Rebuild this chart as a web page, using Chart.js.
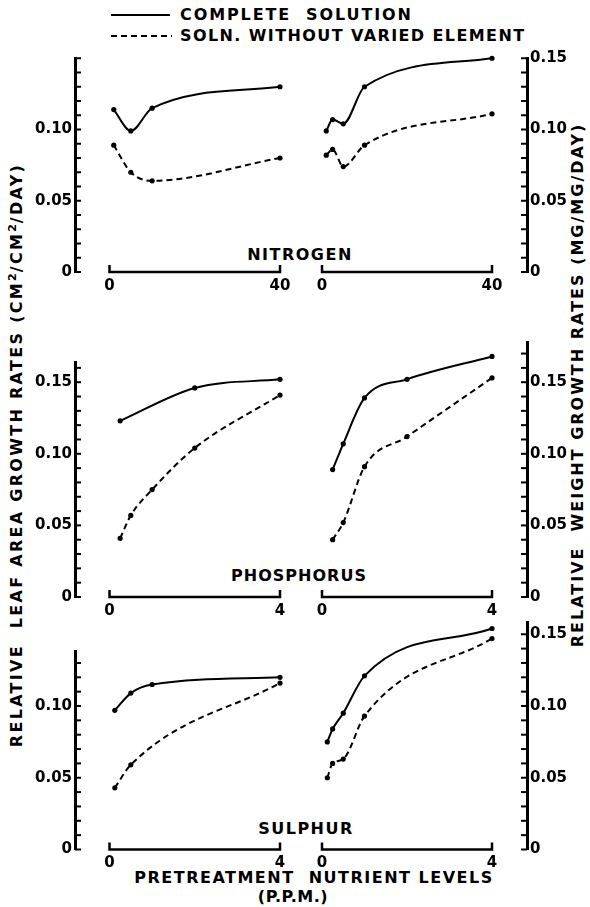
<!DOCTYPE html>
<html>
<head>
<meta charset="utf-8">
<script src="https://cdn.jsdelivr.net/npm/chart.js@4.4.1/dist/chart.umd.min.js"></script>
<style>
  html, body { margin: 0; padding: 0; background: #fff; }
  #figure {
    position: relative; width: 590px; height: 907px; background: #fff; overflow: hidden;
    font-family: "DejaVu Sans", sans-serif; font-weight: bold; color: #000;
  }
  #figure canvas { position: absolute; }
  .txt { position: absolute; white-space: nowrap; line-height: 1; }
  .centered { transform: translate(-50%, -50%); }
  .vert { transform: translate(-50%, -50%) rotate(-90deg); }
  .legend-text { transform: translateY(-50%); font-size: 16px; letter-spacing: 1.4px; }
  .sup { font-size: 11px; position: relative; top: -6px; letter-spacing: 1px; }
</style>
</head>
<body>
<div id="figure">
  <svg width="590" height="50" style="position:absolute;left:0;top:0">
    <line x1="111" y1="15" x2="170" y2="15" stroke="#000" stroke-width="2"></line>
    <line x1="111" y1="36" x2="172" y2="36" stroke="#000" stroke-width="2" stroke-dasharray="6 4"></line>
  </svg>
  <div class="txt legend-text" style="left:180px;top:15px;letter-spacing:1.9px">COMPLETE&nbsp; SOLUTION</div>
  <div class="txt legend-text" style="left:180px;top:36px">SOLN. WITHOUT VARIED ELEMENT</div>

  <div class="txt vert" style="left:17px;top:455px;font-size:16px;letter-spacing:2.3px">RELATIVE&nbsp; LEAF AREA GROWTH RATES (CM<span class="sup">2</span>/CM<span class="sup">2</span>/DAY)</div>
  <div class="txt vert" style="left:578px;top:385px;font-size:16px;letter-spacing:2px">RELATIVE&nbsp; WEIGHT GROWTH RATES (MG/MG/DAY)</div>

  <div class="txt centered" style="left:300px;top:255px;font-size:16px;letter-spacing:1.5px">NITROGEN</div>
  <div class="txt centered" style="left:299px;top:576px;font-size:16px;letter-spacing:1px">PHOSPHORUS</div>
  <div class="txt centered" style="left:306px;top:829px;font-size:16px;letter-spacing:1.5px">SULPHUR</div>

  <div class="txt centered" style="left:314px;top:878px;font-size:16px;letter-spacing:1.5px">PRETREATMENT&nbsp; NUTRIENT LEVELS</div>
  <div class="txt centered" style="left:293px;top:897px;font-size:16px;letter-spacing:0.5px">(P.P.M.)</div>

  <canvas id="nLeaf" width="300" height="255" style="left:0;top:45px"></canvas>
  <canvas id="nWeight" width="290" height="255" style="left:300px;top:45px"></canvas>
  <canvas id="pLeaf" width="300" height="300" style="left:0;top:322px"></canvas>
  <canvas id="pWeight" width="290" height="300" style="left:300px;top:322px"></canvas>
  <canvas id="sLeaf" width="300" height="280" style="left:0;top:604px"></canvas>
  <canvas id="sWeight" width="290" height="280" style="left:300px;top:604px"></canvas>
</div>
<script>
// nutrient levels (p.p.m.) and growth rates
const nitrogenLeafLevels = [1, 5, 10, 40];
const nitrogenLeafComplete = [0.114, 0.099, 0.115, 0.130];
const nitrogenLeafWithout = [0.089, 0.070, 0.064, 0.080];
const nitrogenWeightLevels = [1, 2.5, 5, 10, 40];
const nitrogenWeightComplete = [0.099, 0.107, 0.104, 0.130, 0.150];
const nitrogenWeightWithout = [0.082, 0.086, 0.074, 0.089, 0.111];

const phosphorusLeafCompleteLevels = [0.25, 2, 4];
const phosphorusLeafComplete = [0.123, 0.146, 0.152];
const phosphorusLeafWithoutLevels = [0.25, 0.5, 1, 2, 4];
const phosphorusLeafWithout = [0.041, 0.057, 0.075, 0.104, 0.141];
const phosphorusWeightLevels = [0.25, 0.5, 1, 2, 4];
const phosphorusWeightComplete = [0.089, 0.107, 0.139, 0.152, 0.168];
const phosphorusWeightWithout = [0.040, 0.052, 0.091, 0.112, 0.153];

const sulphurLeafCompleteLevels = [0.125, 0.5, 1, 4];
const sulphurLeafComplete = [0.097, 0.109, 0.115, 0.120];
const sulphurLeafWithoutLevels = [0.125, 0.5, 4];
const sulphurLeafWithout = [0.043, 0.059, 0.116];
const sulphurWeightLevels = [0.125, 0.25, 0.5, 1, 4];
const sulphurWeightComplete = [0.075, 0.084, 0.095, 0.121, 0.154];
const sulphurWeightWithout = [0.050, 0.060, 0.063, 0.093, 0.147];

const nitrogenAxisEnd = 40;
const smallAxisEnd = 4;

const FONT_FAMILY = '"DejaVu Sans", sans-serif';
const X_AXIS_HEIGHT = 24;

// rows: canvas top/height (page px), y of the zero line, px per unit of rate
const rows = {
  nitrogen: { top: 45, height: 255, zeroY: 272, perUnit: 1425 },
  phosphorus: { top: 322, height: 300, zeroY: 597, perUnit: 1432 },
  sulphur: { top: 604, height: 280, zeroY: 849.5, perUnit: 1435 }
};

// left panels: canvas x 0..300, y axis at 75; right panels: canvas x 300..590, y axis at 527
const leftPanel = { canvasLeft: 0, width: 300, axisWidth: 75, padLeft: 0, padRight: 4, zeroX: 109.5, endX: 280 };
const rightPanel = { canvasLeft: 300, width: 290, axisWidth: 63, padLeft: 5, padRight: 0, zeroX: 322, endX: 492 };

function lineSet(levels, values, dashed) {
  return {
    data: levels.map((x, i) => ({ x: x, y: values[i] })),
    borderColor: "#000",
    backgroundColor: "#000",
    borderWidth: 2,
    borderDash: dashed ? [6, 4] : [],
    pointRadius: 2.6,
    pointBorderWidth: 0,
    pointBackgroundColor: "#000",
    cubicInterpolationMode: "monotone",
    fill: false,
    clip: false
  };
}

function isHundredth(value) {
  const h = value * 100;
  return Math.abs(h - Math.round(h)) < 1e-6;
}

const axisDecor = {
  id: "axisDecor",
  afterDraw(chart, args, opts) {
    const ctx = chart.ctx;
    const xs = chart.scales.x;
    const ys = chart.scales.y;
    const onLeft = ys.position === "left";
    const axisX = onLeft ? ys.right : ys.left;

    ctx.save();
    ctx.strokeStyle = "#000";
    ctx.lineWidth = 2;

    // short tick marks pointing into the plot
    ys.ticks.forEach((t) => {
      if (!isHundredth(t.value)) {
        return;
      }
      const py = ys.getPixelForValue(t.value);
      ctx.beginPath();
      ctx.moveTo(axisX, py);
      ctx.lineTo(axisX + (onLeft ? 6 : -6), py);
      ctx.stroke();
    });

    // bracket style x axis from 0 to the last level
    const y0 = ys.getPixelForValue(0);
    const xa = xs.getPixelForValue(0);
    const xb = xs.getPixelForValue(opts.end);
    ctx.lineWidth = 2.5;
    ctx.beginPath();
    ctx.moveTo(xa, y0 - 7);
    ctx.lineTo(xa, y0);
    ctx.lineTo(xb, y0);
    ctx.lineTo(xb, y0 - 7);
    ctx.stroke();
    ctx.restore();
  }
};

function makePanel(canvasId, row, panel, side, axisEnd, yMax, labelMax, datasets) {
  const areaLeft = panel.canvasLeft + panel.padLeft + (side === "left" ? panel.axisWidth : 0);
  const areaRight = panel.canvasLeft + panel.width - panel.padRight - (side === "right" ? panel.axisWidth : 0);
  const perPx = axisEnd / (panel.endX - panel.zeroX);
  const xMin = -(panel.zeroX - areaLeft) * perPx;
  const xMax = axisEnd + (areaRight - panel.endX) * perPx;

  const areaTop = row.zeroY - yMax * row.perUnit;
  const padTop = areaTop - row.top;
  const padBottom = row.top + row.height - row.zeroY - X_AXIS_HEIGHT;

  return new Chart(document.getElementById(canvasId), {
    type: "line",
    data: { datasets: datasets },
    plugins: [axisDecor],
    options: {
      responsive: false,
      animation: false,
      devicePixelRatio: 1,
      layout: {
        padding: { top: padTop, bottom: padBottom, left: panel.padLeft, right: panel.padRight }
      },
      plugins: {
        legend: { display: false },
        tooltip: { enabled: false },
        axisDecor: { end: axisEnd }
      },
      scales: {
        x: {
          type: "linear",
          position: "bottom",
          min: xMin,
          max: xMax,
          afterBuildTicks: (scale) => {
            scale.ticks = [{ value: 0 }, { value: axisEnd }];
          },
          afterFit: (scale) => {
            scale.height = X_AXIS_HEIGHT;
          },
          grid: { display: false, drawTicks: false },
          border: { display: false },
          ticks: {
            autoSkip: false,
            maxRotation: 0,
            padding: 5,
            color: "#000",
            font: { family: FONT_FAMILY, size: 15, weight: "bold" },
            callback: (value) => String(value)
          }
        },
        y: {
          position: side,
          min: 0,
          max: yMax,
          afterFit: (scale) => {
            scale.width = panel.axisWidth;
          },
          grid: { display: false, drawTicks: false },
          border: { display: true, color: "#000", width: 3 },
          ticks: {
            stepSize: 0.01,
            includeBounds: false,
            autoSkip: false,
            padding: 3,
            color: "#000",
            font: { family: FONT_FAMILY, size: 15, weight: "bold" },
            callback: (value) => {
              if (!isHundredth(value)) {
                return "";
              }
              const h = Math.round(value * 100);
              if (h % 5 !== 0 || value > labelMax + 1e-9) {
                return "";
              }
              return h === 0 ? "0" : value.toFixed(2);
            }
          }
        }
      }
    }
  });
}

makePanel("nLeaf", rows.nitrogen, leftPanel, "left", nitrogenAxisEnd, 0.15, 0.10, [
  lineSet(nitrogenLeafLevels, nitrogenLeafComplete, false),
  lineSet(nitrogenLeafLevels, nitrogenLeafWithout, true)
]);
makePanel("nWeight", rows.nitrogen, rightPanel, "right", nitrogenAxisEnd, 0.15, 0.15, [
  lineSet(nitrogenWeightLevels, nitrogenWeightComplete, false),
  lineSet(nitrogenWeightLevels, nitrogenWeightWithout, true)
]);
makePanel("pLeaf", rows.phosphorus, leftPanel, "left", smallAxisEnd, 0.164, 0.15, [
  lineSet(phosphorusLeafCompleteLevels, phosphorusLeafComplete, false),
  lineSet(phosphorusLeafWithoutLevels, phosphorusLeafWithout, true)
]);
makePanel("pWeight", rows.phosphorus, rightPanel, "right", smallAxisEnd, 0.178, 0.15, [
  lineSet(phosphorusWeightLevels, phosphorusWeightComplete, false),
  lineSet(phosphorusWeightLevels, phosphorusWeightWithout, true)
]);
makePanel("sLeaf", rows.sulphur, leftPanel, "left", smallAxisEnd, 0.138, 0.10, [
  lineSet(sulphurLeafCompleteLevels, sulphurLeafComplete, false),
  lineSet(sulphurLeafWithoutLevels, sulphurLeafWithout, true)
]);
makePanel("sWeight", rows.sulphur, rightPanel, "right", smallAxisEnd, 0.158, 0.15, [
  lineSet(sulphurWeightLevels, sulphurWeightComplete, false),
  lineSet(sulphurWeightLevels, sulphurWeightWithout, true)
]);
</script>
</body>
</html>
